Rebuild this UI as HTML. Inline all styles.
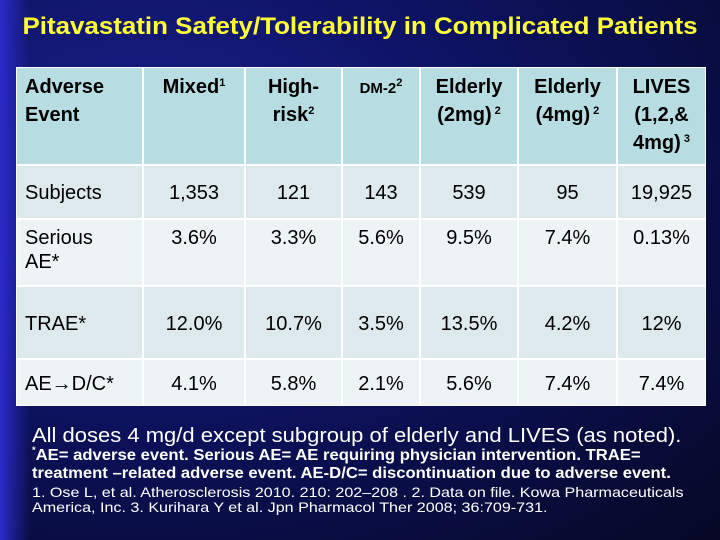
<!DOCTYPE html>
<html><head><meta charset="utf-8"><style>
body{margin:0;width:720px;height:540px;overflow:hidden;font-family:"Liberation Sans",Arial,sans-serif;}
#slide{position:absolute;left:0;top:0;width:720px;height:540px;background:radial-gradient(ellipse at 20% 30%,#1a1f8c 0%,#0d1260 45%,#060824 100%);}
#edge{position:absolute;left:0;top:0;width:30px;height:540px;background:linear-gradient(90deg,#2a2ac8,rgba(30,30,160,0));}
h1{position:absolute;left:0;top:13px;width:720px;margin:0;text-align:center;color:#ffff33;font-size:24px;font-weight:bold;transform:scaleX(1.08);}
.c{position:absolute;box-sizing:border-box;color:#000;font-size:20px;line-height:24px;}
.hd{background:#b7dde2;font-size:20px;font-weight:bold;line-height:28px;}
.r0{background:#dde9ed}.r1{background:#eef4f6}
.cent{text-align:center}
sup{font-size:11px;vertical-align:7px;line-height:0;}
.foot{position:absolute;left:32px;color:#fff;white-space:nowrap;transform-origin:0 0;}
</style></head><body>
<div id="slide"><div id="edge"></div>
<h1>Pitavastatin Safety/Tolerability in Complicated Patients</h1>
<div id="table"></div>
<div class="foot" style="top:425px;font-size:20px;transform:scaleX(1.1)">All doses 4 mg/d except subgroup of elderly and LIVES (as noted).</div>
<div class="foot" style="top:447px;font-size:16px;font-weight:bold;line-height:18px;transform:scaleX(1.04)"><sup style="font-size:9px">*</sup>AE= adverse event. Serious AE= AE requiring physician intervention. TRAE=<br>treatment –related adverse event. AE-D/C= discontinuation due to adverse event.</div>
<div class="foot" style="top:485px;font-size:14px;line-height:15px;transform:scaleX(1.15)">1. Ose L, et al. Atherosclerosis 2010. 210: 202–208 . 2. Data on file. Kowa Pharmaceuticals<br>America, Inc. 3. Kurihara Y et al. Jpn Pharmacol Ther 2008; 36:709-731.</div>
</div>
<script>
const colEdges=[16,143,245,342,420,518,617,706];
const rowEdges=[67,165,219,286,359,406];
const headers=['Adverse<br>Event','Mixed<sup>1</sup>','High-<br>risk<sup>2</sup>','<span style="font-size:15px">DM-2<sup>2</sup></span>','Elderly<br>(2mg)<sup> 2</sup>','Elderly<br>(4mg)<sup> 2</sup>','LIVES<br>(1,2,&amp;<br>4mg)<sup> 3</sup>'];
const rowLabels=['Subjects','Serious<br>AE*','TRAE*','AE→D/C*'];
const rowValues=[
 ['1,353','121','143','539','95','19,925'],
 ['3.6%','3.3%','5.6%','9.5%','7.4%','0.13%'],
 ['12.0%','10.7%','3.5%','13.5%','4.2%','12%'],
 ['4.1%','5.8%','2.1%','5.6%','7.4%','7.4%']];
const rowValign=['mid','top','mid','mid'];
const t=document.getElementById('table');
function cell(c,r,html,cls,pad){
 const d=document.createElement('div');
 d.className='c '+cls;
 const x=colEdges[c],w=colEdges[c+1]-x,y=rowEdges[r],h=rowEdges[r+1]-y;
 d.style.left=(x+1)+'px';d.style.top=(y+1)+'px';d.style.width=(w-2)+'px';d.style.height=(h-2)+'px';
 d.style.padding=pad;
 d.innerHTML=html;
 t.appendChild(d);return d;
}
headers.forEach((h,i)=>{
 const d=cell(i,0,h,'hd'+(i>0?' cent':''),i==0?'5px 0 0 8px':'5px 2px 0 2px');
 
 
});
rowLabels.forEach((lab,r)=>{
 const cls='r'+(r%2);
 const h=rowEdges[r+2]-rowEdges[r+1];
 const pt=rowValign[r]==='top'?6:Math.round((h-24)/2);
 const d=cell(0,r+1,lab,cls,pt+'px 0 0 8px');
 
 
 rowValues[r].forEach((v,c)=>{
  const e=cell(c+1,r+1,v,cls+' cent',pt+'px 0 0 0');
  
  
 });
});
const bg=document.createElement('div');
bg.style.cssText='position:absolute;left:16px;top:67px;width:690px;height:339px;background:#fff;z-index:-1';


t.style.cssText='position:absolute;left:0;top:0;z-index:1';
t.appendChild(bg);
</script>
</body></html>
